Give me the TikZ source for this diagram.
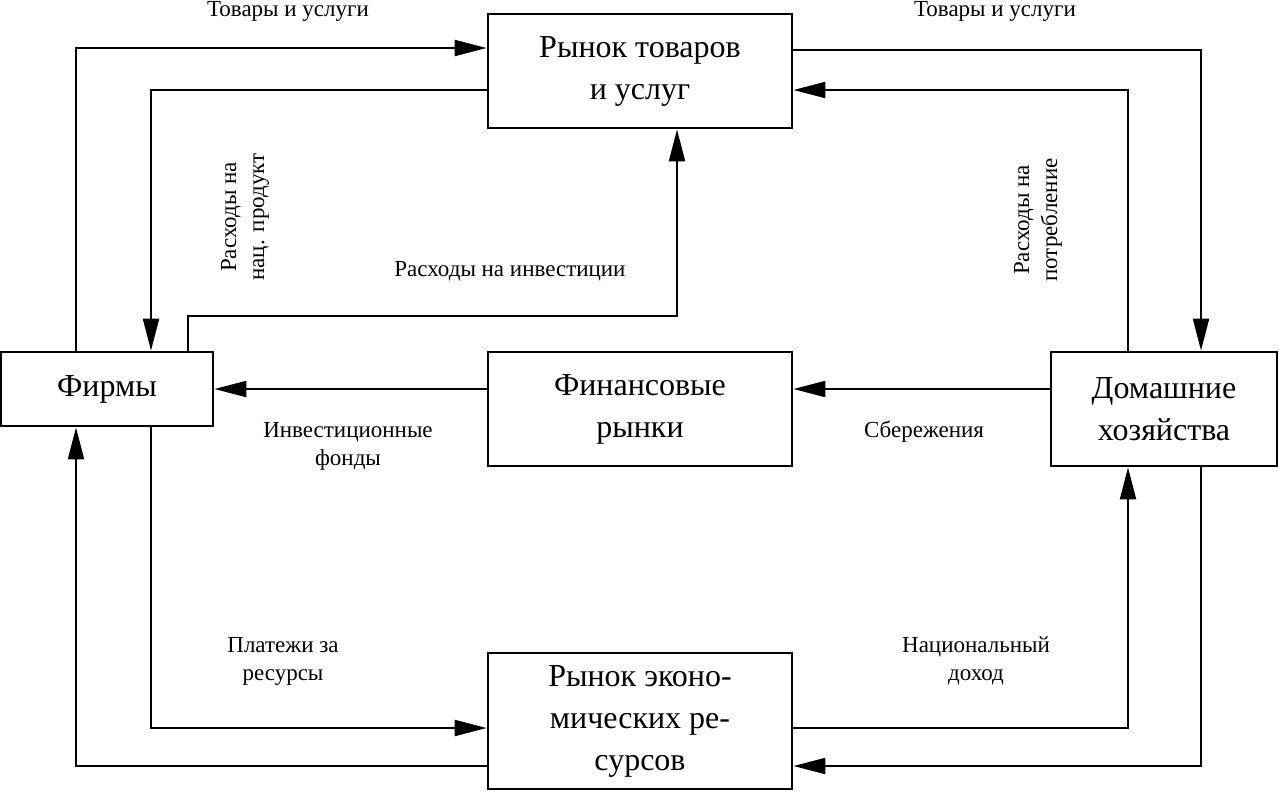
\documentclass[tikz,border=0pt]{standalone}
\usepackage{fontspec}
\setmainfont{Liberation Serif}
\usetikzlibrary{arrows.meta}
\begin{document}
\begin{tikzpicture}[x=0.5pt,y=-0.5pt,
  box/.style={draw,line width=1.4pt,align=center,inner sep=0pt,font=\fontsize{16}{21}\selectfont},
  lbl/.style={align=center,font=\fontsize{11.5}{14}\selectfont},
  flow/.style={line width=1.1pt,-{Triangle[length=16pt,width=8pt]}}]
\useasboundingbox (0,0) rectangle (1279,805);
\node[box,minimum width=152pt,minimum height=57pt] (goods) at (640,71) {Рынок товаров\\и услуг};
\node[box,minimum width=106pt,minimum height=37pt] (firms) at (107,389) {Фирмы};
\node[box,minimum width=152pt,minimum height=57pt] (fin) at (640,409) {Финансовые\\рынки};
\node[box,minimum width=113pt,minimum height=57pt] (house) at (1164,409) {Домашние\\хозяйства};
\node[box,minimum width=152pt,minimum height=68pt] (res) at (640,721) {Рынок эконо-\\мических ре-\\сурсов};
% corners
\coordinate (c1) at (76,48); \coordinate (c2) at (151,90);
\coordinate (c3a) at (188,316); \coordinate (c3b) at (677,316);
\coordinate (c4) at (1201,50); \coordinate (c5) at (1128,90);
\coordinate (c6) at (640,389);
\coordinate (c8) at (151,728); \coordinate (c9) at (1128,728);
\coordinate (c10) at (1201,766); \coordinate (c11) at (76,766);
\draw[flow] (firms.north -| c1) -- (c1) -- (goods.west |- c1);
\draw[flow] (goods.west |- c2) -- (c2) -- (firms.north -| c2);
\draw[flow] (firms.north -| c3a) -- (c3a) -- (c3b) -- (goods.south -| c3b);
\draw[flow] (goods.east |- c4) -- (c4) -- (house.north -| c4);
\draw[flow] (house.north -| c5) -- (c5) -- (goods.east |- c5);
\draw[flow] (fin.west |- c6) -- (firms.east |- c6);
\draw[flow] (house.west |- c6) -- (fin.east |- c6);
\draw[flow] (firms.south -| c8) -- (c8) -- (res.west |- c8);
\draw[flow] (res.east |- c9) -- (c9) -- (house.south -| c9);
\draw[flow] (house.south -| c10) -- (c10) -- (res.east |- c10);
\draw[flow] (res.west |- c11) -- (c11) -- (firms.south -| c11);
\node[lbl] (l1) at (288,11) {Товары и услуги};
\node[lbl] (l2) at (995,11) {Товары и услуги};
\node[lbl] (l3) at (510,271) {Расходы на инвестиции};
\node[lbl,rotate=90] (l4) at (245,217) {Расходы на\\нац. продукт};
\node[lbl,rotate=90] (l5) at (1038,220) {Расходы на\\потребление};
\node[lbl] (l6) at (348,446) {Инвестиционные\\фонды};
\node[lbl] (l7) at (924,432) {Сбережения};
\node[lbl] (l8) at (283,661) {Платежи за\\ресурсы};
\node[lbl] (l9) at (976,661) {Национальный\\доход};
\end{tikzpicture}
\end{document}
